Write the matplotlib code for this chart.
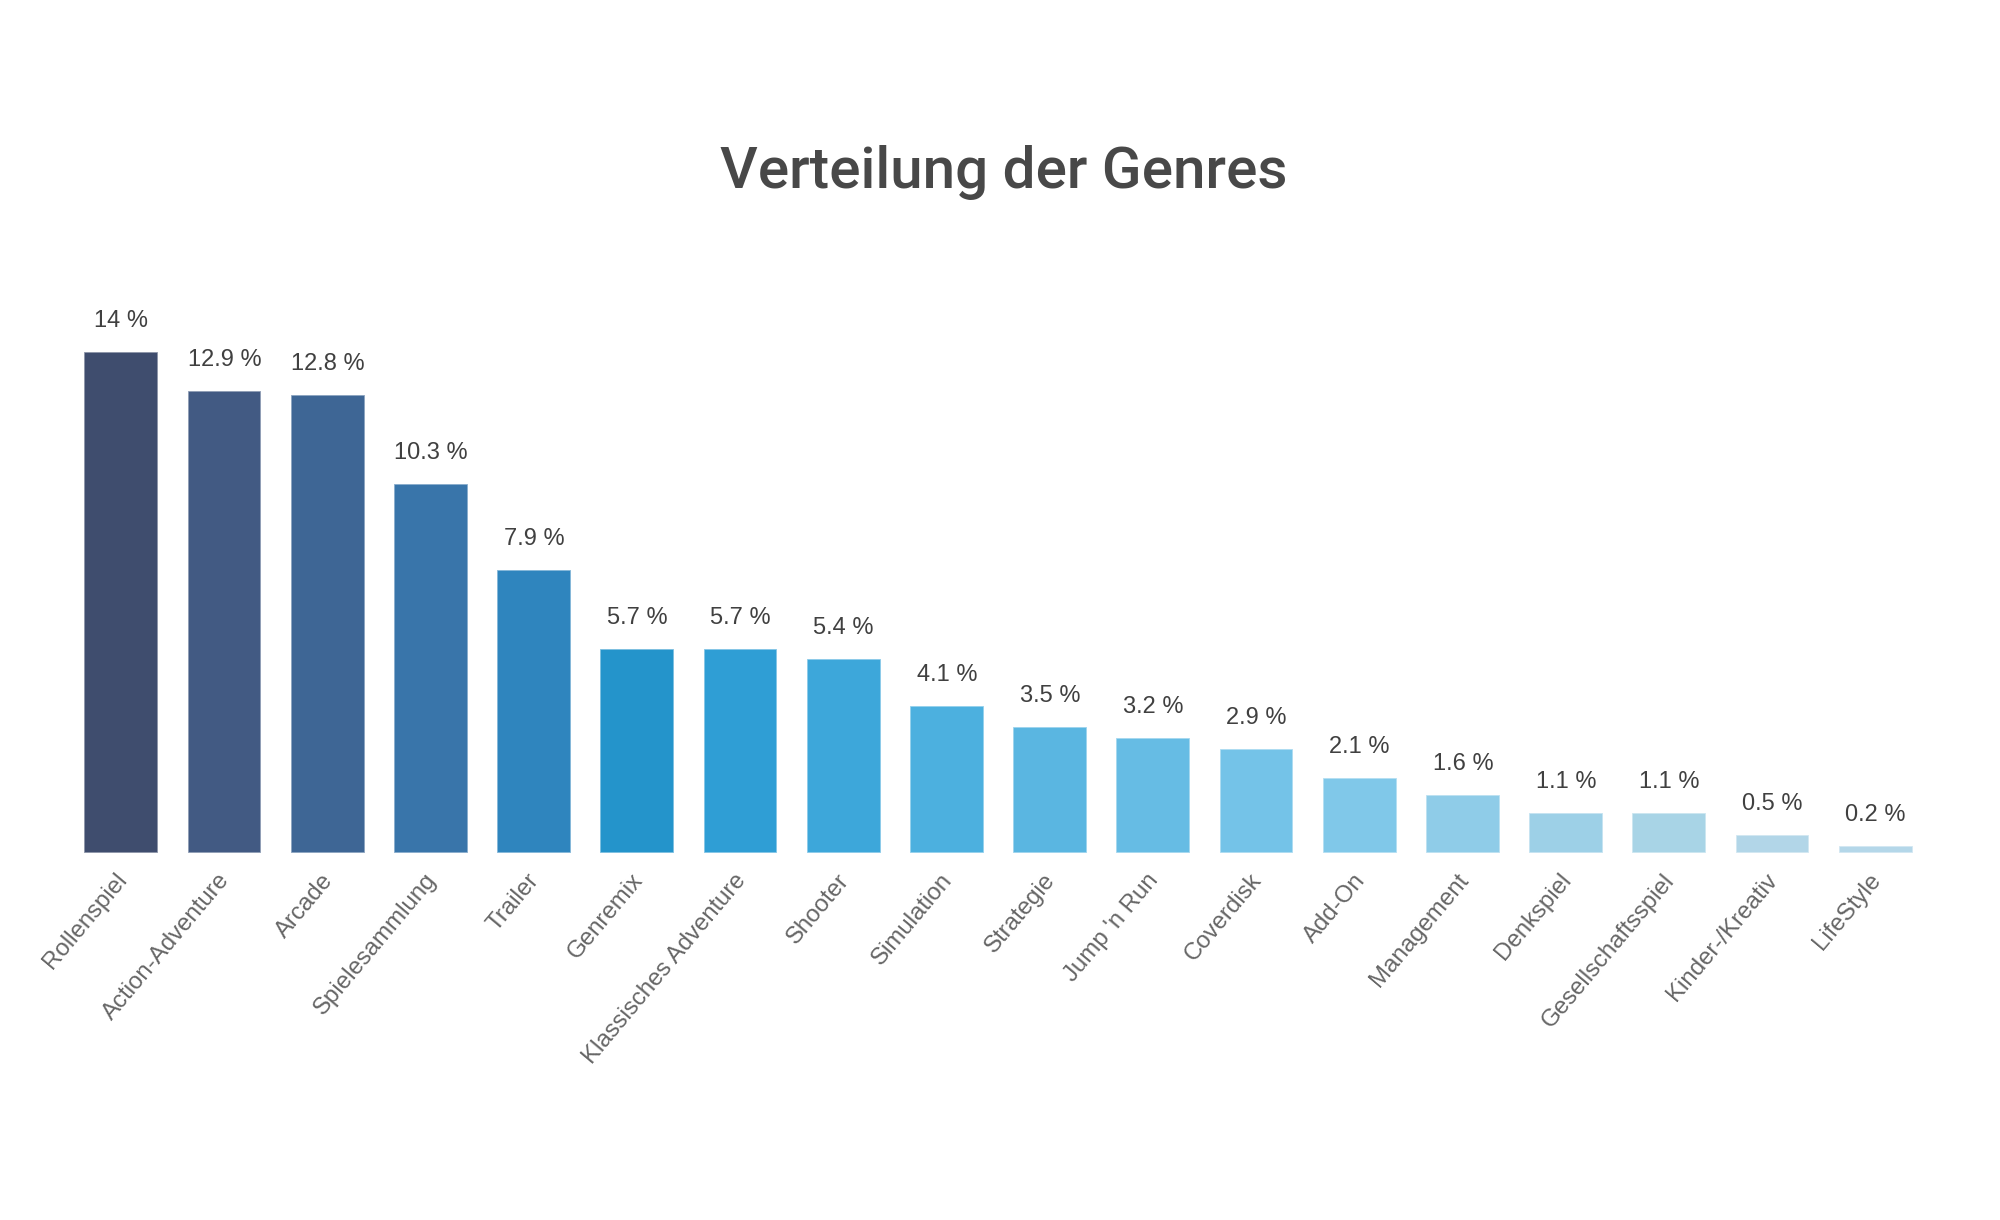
import matplotlib.pyplot as plt
from matplotlib.transforms import ScaledTranslation

genres = ['Rollenspiel', 'Action-Adventure', 'Arcade', 'Spielesammlung', 'Trailer',
          'Genremix', 'Klassisches Adventure', 'Shooter', 'Simulation', 'Strategie',
          "Jump 'n Run", 'Coverdisk', 'Add-On', 'Management', 'Denkspiel',
          'Gesellschaftsspiel', 'Kinder-/Kreativ', 'LifeStyle']
shares = [14, 12.9, 12.8, 10.3, 7.9, 5.7, 5.7, 5.4, 4.1, 3.5, 3.2, 2.9, 2.1, 1.6,
          1.1, 1.1, 0.5, 0.2]
colors = ['#3f4d6e', '#425a83', '#3e6695', '#3975aa', '#2f85be', '#2494cb',
          '#2f9ed5', '#3da7da', '#4cb0df', '#5ab6e1', '#66bce4', '#74c3e8',
          '#80c8e9', '#8fcce8', '#9dd0e7', '#a8d4e6', '#b2d6e8', '#b4d7e9']

plt.rcParams['font.family'] = ['Liberation Sans', 'DejaVu Sans']

fig = plt.figure(figsize=(20, 12.2), dpi=100)
ax = fig.add_axes([0.03485, 0.3011, 0.9288, 0.44])

x = range(len(genres))
bars = ax.bar(x, shares, width=0.717, color=colors, edgecolor='#ffffff80', linewidth=1.2)

for bar, val in zip(bars, shares):
    ax.annotate(f'{val:g} %', (bar.get_x() + bar.get_width() / 2, bar.get_height()),
                xytext=(0, 18), textcoords='offset points', ha='center', va='baseline',
                fontsize=17, color='#404040')

ax.set_xlim(-0.5, len(genres) - 0.5)
ax.set_ylim(0, 15)
ax.set_xticks(list(x))
ax.set_xticklabels(genres, rotation=50, ha='right', rotation_mode='anchor',
                   fontsize=17.3, color='#666666')
ax.tick_params(axis='x', length=0, pad=12)
# nudge labels a little to the left, like the original
shift = ScaledTranslation(-5 / 72, 0, fig.dpi_scale_trans)
for lbl in ax.get_xticklabels():
    lbl.set_transform(lbl.get_transform() + shift)
ax.set_yticks([])
for s in ax.spines.values():
    s.set_visible(False)

fig.text(0.502, 1 - 173 / 1220, 'Verteilung der Genres', ha='center', va='center',
         fontsize=42, fontweight='medium', family=['Roboto', 'DejaVu Sans'],
         color='#484848')

fig.savefig('out.png', dpi=100, facecolor='white')
